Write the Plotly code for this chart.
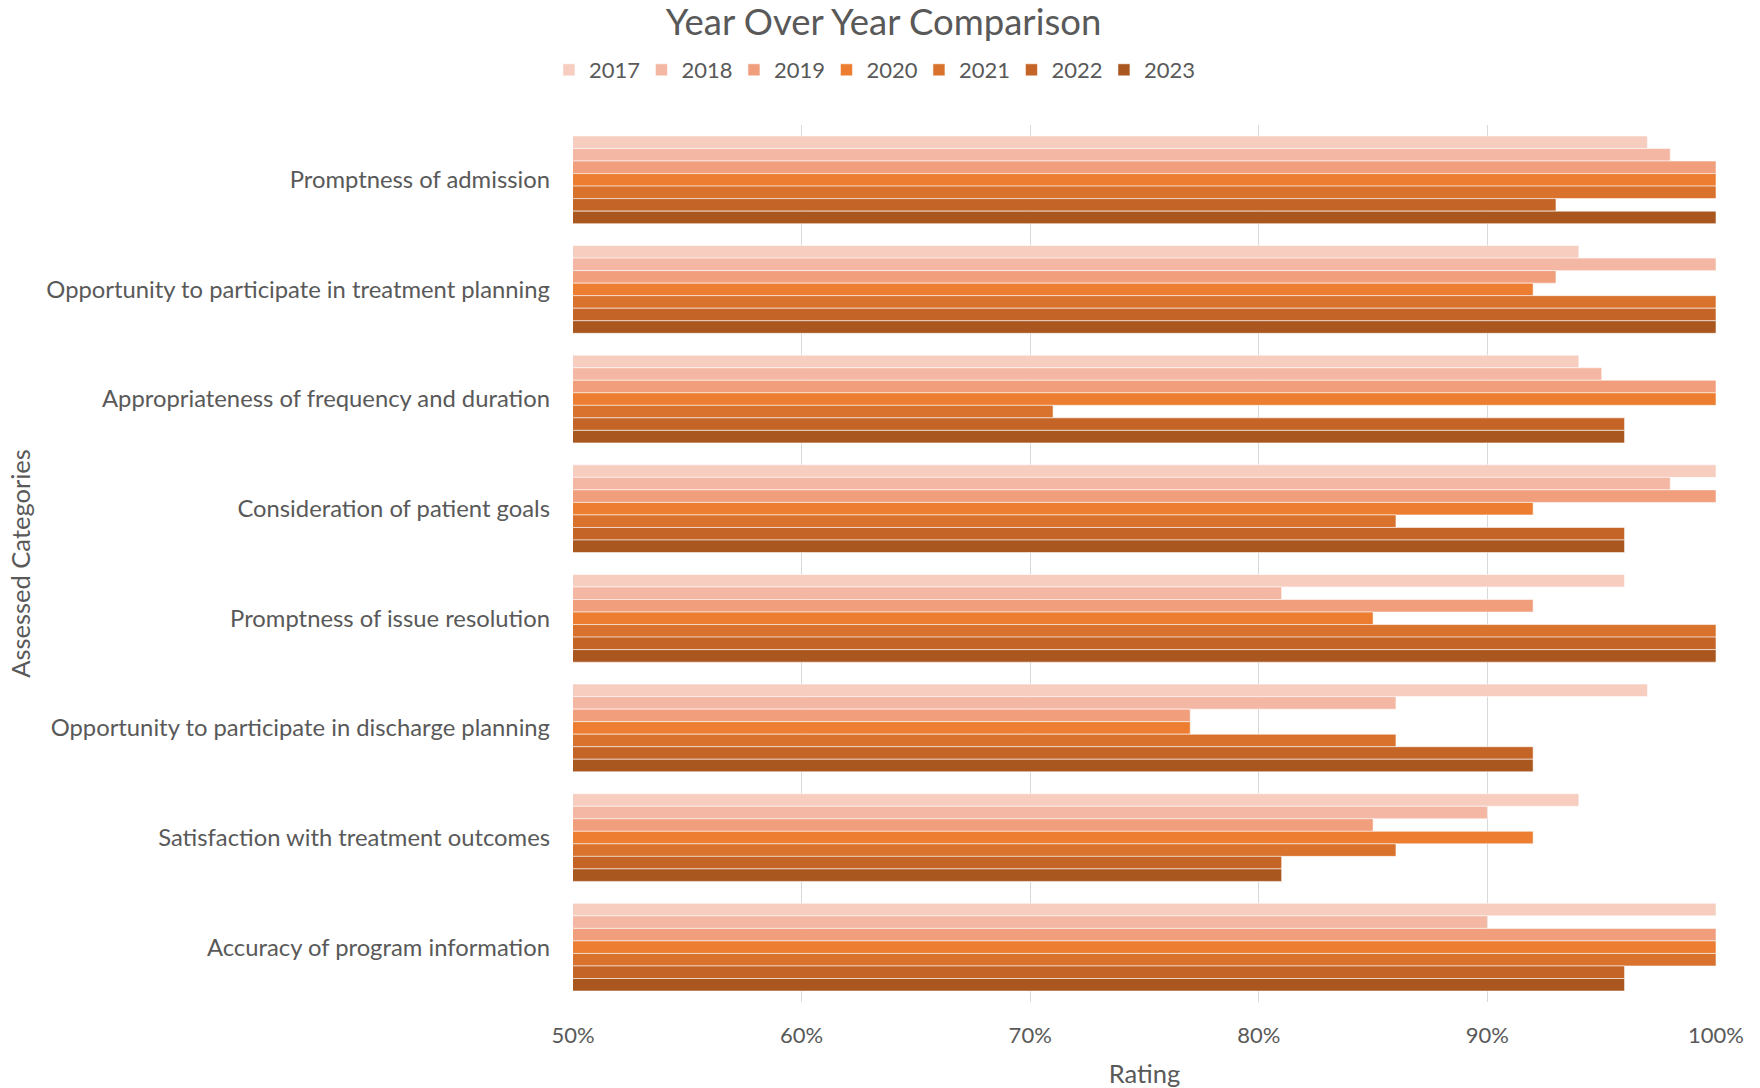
import plotly.graph_objects as go

# Survey categories (top to bottom)
categories = [
    "Promptness of admission",
    "Opportunity to participate in treatment planning",
    "Appropriateness of frequency and duration",
    "Consideration of patient goals",
    "Promptness of issue resolution",
    "Opportunity to participate in discharge planning",
    "Satisfaction with treatment outcomes",
    "Accuracy of program information",
]

years = ["2017", "2018", "2019", "2020", "2021", "2022", "2023"]

# Rating (%) per year, one value per category in the order above
rating_2017 = [97, 94, 94, 100, 96, 97, 94, 100]
rating_2018 = [98, 100, 95, 98, 81, 86, 90, 90]
rating_2019 = [100, 93, 100, 100, 92, 77, 85, 100]
rating_2020 = [100, 92, 100, 92, 85, 77, 92, 100]
rating_2021 = [100, 100, 71, 86, 100, 86, 86, 100]
rating_2022 = [93, 100, 96, 96, 100, 92, 81, 96]
rating_2023 = [100, 100, 96, 96, 100, 92, 81, 96]

ratings = [rating_2017, rating_2018, rating_2019, rating_2020,
           rating_2021, rating_2022, rating_2023]

colors = ["#F7CDC0", "#F4B7A3", "#F09E7C", "#ED7D31",
          "#D9722D", "#C46527", "#A9561F"]

x_ticks = [50, 60, 70, 80, 90, 100]

FONT = "Lato"
GREY = "#595959"

fig = go.Figure()
for year, vals, col in zip(years, ratings, colors):
    fig.add_trace(go.Bar(
        name=year,
        y=categories,
        x=vals,
        orientation="h",
        marker=dict(color=col, line=dict(color="rgba(255,255,255,0.55)", width=1)),
    ))

fig.update_layout(
    width=1760,
    height=1088,
    paper_bgcolor="white",
    plot_bgcolor="white",
    barmode="group",
    bargap=0.2,
    bargroupgap=0,
    margin=dict(l=573, r=44, t=125, b=86),
    font=dict(family=FONT, color=GREY),
    title=dict(
        text="Year Over Year Comparison",
        x=0.502, xref="container", xanchor="center",
        y=1 - 22 / 1088, yref="container", yanchor="middle",
        font=dict(family=FONT, size=36.5, color=GREY),
    ),
    legend=dict(
        orientation="h",
        x=0.496, xref="container", xanchor="center",
        y=1 - 70 / 1088, yref="container", yanchor="middle",
        font=dict(family=FONT, size=22, color=GREY),
        itemwidth=30,
        entrywidth=47.5,
        traceorder="normal",
    ),
    xaxis=dict(
        range=[50, 100],
        tickvals=x_ticks,
        ticktext=[f"{v}%" for v in x_ticks],
        showgrid=True,
        gridcolor="#D9D9D9",
        gridwidth=1,
        zeroline=False,
        showline=False,
        automargin=False,
        tickfont=dict(family=FONT, size=22, color=GREY),
        ticks="",
        ticklabelstandoff=18,
        title=dict(text="Rating", font=dict(family=FONT, size=25.5, color=GREY), standoff=20),
    ),
    yaxis=dict(
        autorange="reversed",
        showgrid=False,
        showline=False,
        automargin=False,
        ticks="",
        tickfont=dict(family=FONT, size=23.8, color=GREY),
        ticklabelstandoff=22,
        title=dict(text="Assessed Categories", font=dict(family=FONT, size=25.5, color=GREY), standoff=8),
    ),
)

fig.write_html("out.html")
